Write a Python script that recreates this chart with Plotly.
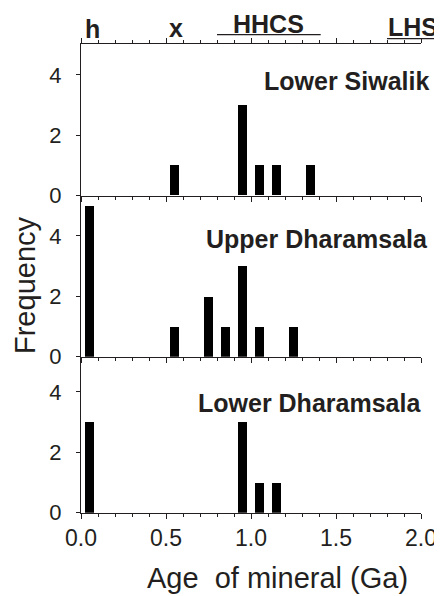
import plotly.graph_objects as go

# ---------------- data ----------------
samples = ["Lower Siwalik", "Upper Dharamsala", "Lower Dharamsala"]
ls_age = [0.55, 0.95, 1.05, 1.15, 1.35]
ls_freq = [1, 3, 1, 1, 1]
ud_age = [0.05, 0.55, 0.75, 0.85, 0.95, 1.05, 1.25]
ud_freq = [5, 1, 2, 1, 3, 1, 1]
ld_age = [0.05, 0.95, 1.05, 1.15]
ld_freq = [3, 3, 1, 1]
y_ticks = [0, 2, 4]
x_ticks = [0.0, 0.5, 1.0, 1.5, 2.0]
x_ticktext = ["0.0", "0.5", "1.0", "1.5", "2.0"]
source_labels = ["h", "x", "HHCS", "LHS"]
source_age = [0.065, 0.56, 1.10, 1.95]

# ---------------- layout geometry (page pixels) ----------------
PAGE_W, PAGE_H = 442, 596
OFF = 8                   # page body margin of the html page
W, H = PAGE_W - OFF, PAGE_H - OFF
XL, XR = 81, 421          # page pixel x of 0 and 2 Ga
PX_PER_UNIT = 30.2
panels_px = [(44.3, 195.7), (195.7, 356.7), (356.7, 512.7)]  # (top, bottom)
INK = "#231f20"
FONT = "Liberation Sans, Arial, Helvetica, sans-serif"


def py(p):
    return 1 - (p - OFF) / H


def px(p):
    return (p - OFF) / W


def gx(age):
    return px(XL + age * (XR - XL) / 2.0)


fig = go.Figure()
series = [(ls_age, ls_freq), (ud_age, ud_freq), (ld_age, ld_freq)]
axis_ids = ["", "2", "3"]
for i, (ages, freqs) in enumerate(series):
    fig.add_trace(go.Bar(
        x=ages, y=freqs, width=0.055,
        marker=dict(color="black", line=dict(width=0)),
        xaxis="x" + axis_ids[i], yaxis="y" + axis_ids[i],
        showlegend=False, hoverinfo="x+y",
    ))

layout = dict(
    width=W, height=H, autosize=False,
    margin=dict(l=0, r=0, t=0, b=0, pad=0, autoexpand=False),
    paper_bgcolor="white", plot_bgcolor="white",
    bargap=0, showlegend=False,
    font=dict(family=FONT, color=INK),
)

for i, (top, bot) in enumerate(panels_px):
    aid = axis_ids[i]
    ytop = (bot - top) / PX_PER_UNIT
    layout["yaxis" + aid] = dict(
        domain=[py(bot), py(top)], range=[0, ytop],
        anchor="x" + aid, automargin=False,
        tickvals=y_ticks, ticks="outside", ticklen=4, tickwidth=1,
        tickcolor=INK, showline=True, linecolor=INK, linewidth=1,
        showgrid=False, zeroline=False,
        tickfont=dict(size=22, color=INK, family=FONT),
        ticklabelstandoff=10,
    )
    xa = dict(
        domain=[px(XL), px(XR)], range=[0, 2],
        anchor="y" + aid, automargin=False,
        tickvals=x_ticks, ticktext=x_ticktext,
        ticks="outside", ticklen=5, tickwidth=1, tickcolor=INK,
        minor=dict(dtick=0.1, tick0=0, ticks="outside", ticklen=3,
                   tickwidth=1, tickcolor=INK, showgrid=False),
        showline=True, linecolor=INK, linewidth=1,
        showgrid=False, zeroline=False,
        showticklabels=(i == 2),
        tickfont=dict(size=23, color=INK, family=FONT),
    )
    if i > 0:
        xa["matches"] = "x"
    if i == 0:
        xa["mirror"] = "ticks"
    layout["xaxis" + aid] = xa

annotations = []
label_pos = [(431, 80), (430, 238), (423, 402)]
for name, (rx, cy) in zip(samples, label_pos):
    annotations.append(dict(
        text="<b>%s</b>" % name, xref="paper", yref="paper",
        x=px(rx), y=py(cy + 1), xanchor="right", yanchor="middle",
        showarrow=False, font=dict(size=25, color=INK, family=FONT),
    ))

src_base = [37, 36.5, 32, 35]
for lab, age, base in zip(source_labels, source_age, src_base):
    annotations.append(dict(
        text="<b>%s</b>" % lab, xref="paper", yref="paper",
        x=gx(age), y=py(base - 8), xanchor="center", yanchor="middle",
        showarrow=False, font=dict(size=25, color=INK, family=FONT),
    ))

annotations.append(dict(
    text="Frequency", xref="paper", yref="paper",
    x=px(25), y=py(285), xanchor="center", yanchor="middle",
    textangle=-90, showarrow=False,
    font=dict(size=29, color=INK, family=FONT),
))
annotations.append(dict(
    text="Age&nbsp; of mineral (Ga)", xref="paper", yref="paper",
    x=px(277), y=py(578), xanchor="center", yanchor="middle",
    showarrow=False, font=dict(size=29, color=INK, family=FONT),
))
layout["annotations"] = annotations

# underlines for source terranes
hhcs_range = [0.8, 1.41]
lhs_range = [1.8, 2.13]
layout["shapes"] = [
    dict(type="line", xref="paper", yref="paper",
         x0=gx(hhcs_range[0]), x1=gx(hhcs_range[1]), y0=py(34.7), y1=py(34.7),
         line=dict(color=INK, width=1.3)),
    dict(type="line", xref="paper", yref="paper",
         x0=gx(lhs_range[0]), x1=gx(lhs_range[1]), y0=py(38.7), y1=py(38.7),
         line=dict(color=INK, width=1.3)),
]

fig.update_layout(**layout)
fig.write_html("out.html", config={"responsive": False})
